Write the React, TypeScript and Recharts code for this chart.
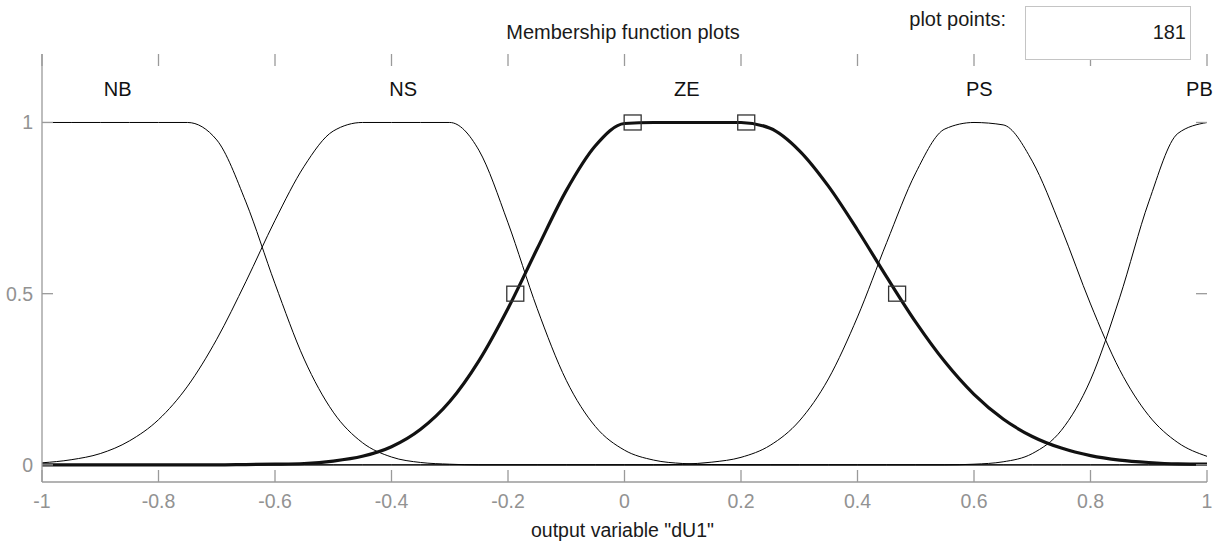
import React from 'react';
import { ComposedChart, Line, Scatter, XAxis, YAxis } from 'recharts';

// x sample positions of the membership curves
const xs = [
  -1, -0.95, -0.9, -0.85, -0.8, -0.75, -0.7, -0.65, -0.6, -0.55,
  -0.5, -0.45, -0.4, -0.35, -0.3, -0.25, -0.2, -0.15, -0.1, -0.05,
  0, 0.05, 0.1, 0.15, 0.2, 0.25, 0.3, 0.35, 0.4, 0.45,
  0.5, 0.55, 0.6, 0.65, 0.7, 0.75, 0.8, 0.85, 0.9, 0.95, 1,
];

// membership values
const nb = [
  1, 1, 1, 1, 1, 1, 0.949, 0.768, 0.529, 0.309,
  0.154, 0.065, 0.023, 0.007, 0.002, 0, 0, 0, 0, 0,
  0, 0, 0, 0, 0, 0, 0, 0, 0, 0,
  0, 0, 0, 0, 0, 0, 0, 0, 0, 0, 0,
];
const ns = [
  0.006, 0.015, 0.033, 0.07, 0.132, 0.23, 0.367, 0.535, 0.714, 0.872,
  0.975, 1, 1, 1, 1, 0.919, 0.707, 0.457, 0.247, 0.112,
  0.043, 0.014, 0.004, 0.001, 0, 0, 0, 0, 0, 0,
  0, 0, 0, 0, 0, 0, 0, 0, 0, 0, 0,
];
const ze = [
  0, 0, 0, 0, 0, 0, 0, 0.001, 0.002, 0.004,
  0.011, 0.025, 0.053, 0.104, 0.185, 0.304, 0.457, 0.631, 0.801, 0.932,
  0.997, 1, 1, 1, 1, 0.983, 0.918, 0.814, 0.686, 0.549,
  0.417, 0.301, 0.206, 0.134, 0.083, 0.049, 0.027, 0.014, 0.007, 0.003, 0.002,
];
const ps = [
  0, 0, 0, 0, 0, 0, 0, 0, 0, 0,
  0, 0, 0, 0, 0, 0, 0, 0, 0, 0,
  0, 0, 0.002, 0.008, 0.022, 0.057, 0.128, 0.251, 0.432, 0.649,
  0.853, 0.981, 1, 0.993, 0.887, 0.691, 0.47, 0.278, 0.144, 0.065, 0.025,
];
const pb = [
  0, 0, 0, 0, 0, 0, 0, 0, 0, 0,
  0, 0, 0, 0, 0, 0, 0, 0, 0, 0,
  0, 0, 0, 0, 0, 0, 0, 0, 0, 0,
  0, 0, 0.002, 0.009, 0.033, 0.101, 0.248, 0.488, 0.768, 0.968, 1,
];

// parameter markers of the selected function (ZE)
const markerX = [-0.1875, 0.014, 0.209, 0.468];
const markerY = [0.5, 1, 1, 0.5];

// function names and where they are written
const mfNames = ['NB', 'NS', 'ZE', 'PS', 'PB'];
const mfLabelX = [-0.87, -0.38, 0.107, 0.609, 0.987];
const mfLabelY = 1.1;

const xTicks = [-1, -0.8, -0.6, -0.4, -0.2, 0, 0.2, 0.4, 0.6, 0.8, 1];
const yTicks = [0, 0.5, 1];

const titleText = 'Membership function plots';
const xLabelText = 'output variable "dU1"';
const plotPointsLabel = 'plot points:';
const plotPointsValue = '181';

// layout
const W = 1225;
const H = 542;
const M_TOP = 54;
const M_RIGHT = 18;
const Y_AXIS_W = 42;
const X_AXIS_H = 60;
const PLOT_W = W - Y_AXIS_W - M_RIGHT;
const PLOT_H = H - M_TOP - X_AXIS_H;

const FONT = '"Liberation Sans", Arial, Helvetica, sans-serif';
const AXIS = '#9a9a9a';
const TICKTEXT = '#929292';
const TICK_FS = 19.5;
const TICK_W = 1.3;

const Square = (props: any) => {
  const { cx, cy } = props;
  if (cx == null || cy == null) return null;
  return <rect x={cx - 8.5} y={cy - 7.5} width={17} height={15} fill="none" stroke="#333" strokeWidth={1.3} />;
};

const NameLabel = (props: any) => {
  const { cx, cy, payload } = props;
  if (cx == null || cy == null) return null;
  return (
    <text x={cx} y={cy + 7.5} textAnchor="middle" fontSize={20} fontFamily={FONT} fill="#111">
      {payload.name}
    </text>
  );
};

// inward ticks, MATLAB style: bottom tick also draws its twin on the top edge
const BottomTick = (props: any) => {
  const { x, y, payload, span } = props;
  return (
    <g>
      <line x1={x} x2={x} y1={y} y2={y - 12} stroke={AXIS} strokeWidth={TICK_W} />
      <line x1={x} x2={x} y1={y - span} y2={y - span + 12} stroke={AXIS} strokeWidth={TICK_W} />
      <text x={x} y={y + 26} textAnchor="middle" fontSize={TICK_FS} fontFamily={FONT} fill={TICKTEXT}>
        {String(payload.value)}
      </text>
    </g>
  );
};
// left tick also draws its twin on the right edge
const LeftTick = (props: any) => {
  const { x, y, payload, span } = props;
  return (
    <g>
      <line x1={x} x2={x + 11} y1={y} y2={y} stroke={AXIS} strokeWidth={TICK_W} />
      <line x1={x + span} x2={x + span - 11} y1={y} y2={y} stroke={AXIS} strokeWidth={TICK_W} />
      <text x={x - 9} y={y + 7} textAnchor="end" fontSize={TICK_FS} fontFamily={FONT} fill={TICKTEXT}>
        {String(payload.value)}
      </text>
    </g>
  );
};

export default function App() {
  const rows = xs.map((x, i) => ({ x, nb: nb[i], ns: ns[i], ze: ze[i], ps: ps[i], pb: pb[i] }));
  const markers = markerX.map((x, i) => ({ x, y: markerY[i] }));
  const labels = mfNames.map((name, i) => ({ x: mfLabelX[i], y: mfLabelY, name }));

  return (
    <div style={{ position: 'absolute', left: 0, top: 0, width: W, height: H, background: '#fff', fontFamily: FONT }}>
      <ComposedChart width={W} height={H} data={rows} margin={{ top: M_TOP, right: M_RIGHT, bottom: 0, left: 0 }}>
        <XAxis dataKey="x" type="number" domain={[-1, 1]} ticks={xTicks} interval={0} height={X_AXIS_H}
          tickSize={0} tickMargin={0} tickLine={false} stroke={AXIS} strokeWidth={TICK_W}
          tick={<BottomTick span={PLOT_H} />} />
        <XAxis xAxisId="top" orientation="top" dataKey="x" type="number" domain={[-1, 1]}
          height={0} tick={false} tickLine={false} stroke={AXIS} strokeWidth={TICK_W} />
        <YAxis type="number" domain={[-0.05, 1.2]} ticks={yTicks} interval={0} width={Y_AXIS_W}
          tickSize={0} tickMargin={0} tickLine={false} stroke={AXIS} strokeWidth={TICK_W}
          tick={<LeftTick span={PLOT_W} />} />
        <YAxis yAxisId="right" orientation="right" type="number" domain={[-0.05, 1.2]}
          width={0} tick={false} tickLine={false} stroke={AXIS} strokeWidth={TICK_W} />
        <Line type="monotone" dataKey="nb" stroke="#000" strokeWidth={1} dot={false} activeDot={false} isAnimationActive={false} />
        <Line type="monotone" dataKey="ns" stroke="#000" strokeWidth={1} dot={false} activeDot={false} isAnimationActive={false} />
        <Line type="monotone" dataKey="ps" stroke="#000" strokeWidth={1} dot={false} activeDot={false} isAnimationActive={false} />
        <Line type="monotone" dataKey="pb" stroke="#000" strokeWidth={1} dot={false} activeDot={false} isAnimationActive={false} />
        <Line type="monotone" dataKey="ze" stroke="#111" strokeWidth={3.2} dot={false} activeDot={false} isAnimationActive={false} />
        <Scatter data={markers} dataKey="y" shape={<Square />} isAnimationActive={false} />
        <Scatter data={labels} dataKey="y" shape={<NameLabel />} isAnimationActive={false} />
      </ComposedChart>
      <svg width={W} height={H} style={{ position: 'absolute', left: 0, top: 0, pointerEvents: 'none' }}>
        <text x={623} y={38.5} textAnchor="middle" fontSize={20} fontFamily={FONT} fill="#1a1a1a">{titleText}</text>
        <text x={622.5} y={536.5} textAnchor="middle" fontSize={19.5} fontFamily={FONT} fill="#1a1a1a">{xLabelText}</text>
        <text x={1006} y={26} textAnchor="end" fontSize={20} fontFamily={FONT} fill="#1a1a1a">{plotPointsLabel}</text>
        <rect x={1025.5} y={6.5} width={165} height={53} fill="#fff" stroke="#c4c4c4" strokeWidth={1} />
        <text x={1186} y={39.3} textAnchor="end" fontSize={20} fontFamily={FONT} fill="#1a1a1a">{plotPointsValue}</text>
      </svg>
    </div>
  );
}
